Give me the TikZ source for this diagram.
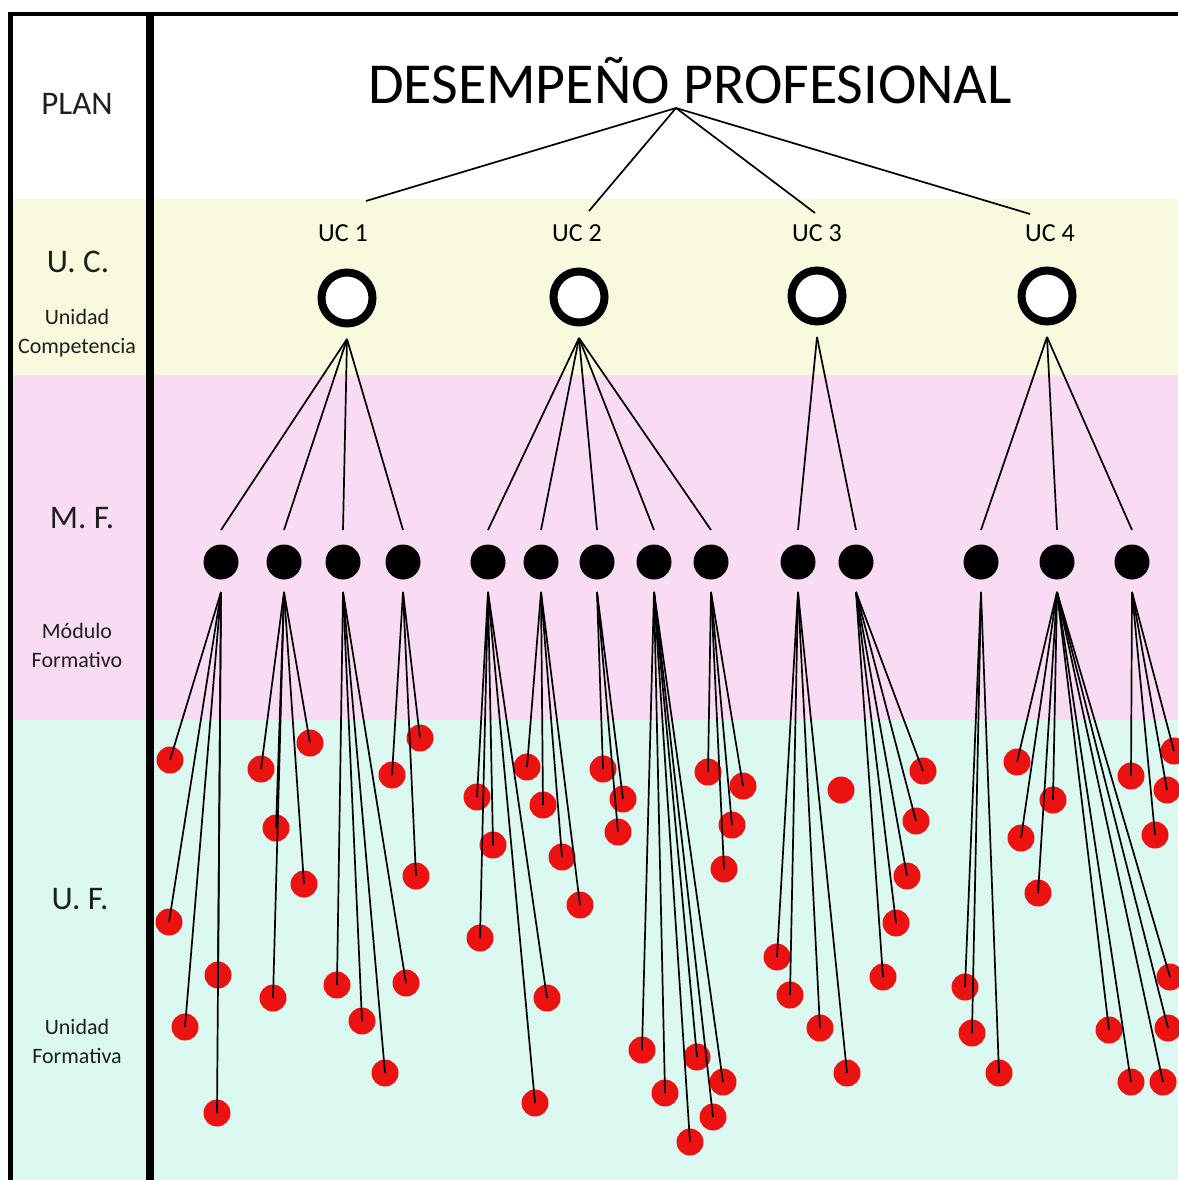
\documentclass[tikz,border=0pt]{standalone}
\usepackage{fontspec}
\setmainfont{Carlito}
\usetikzlibrary{positioning}
\definecolor{bandYellow}{RGB}{249,249,221}
\definecolor{bandPink}{RGB}{249,220,244}
\definecolor{bandCyan}{RGB}{219,249,241}
\definecolor{dotRed}{RGB}{236,18,18}
\definecolor{rowText}{RGB}{30,30,30}
\tikzset{
    ucring/.style={
        circle,
        draw=black,
        line width=8pt,
        fill=white,
        minimum size=51pt,
        inner sep=0pt
    },
    mfdot/.style={
        circle,
        fill=black,
        minimum size=35pt,
        inner sep=0pt
    },
    ufdot/.style={
        circle,
        fill=dotRed,
        minimum size=27pt,
        inner sep=0pt
    },
    link/.style={line width=1.7pt, draw=black},
    rowtitle/.style={font=\fontsize{33}{38}\selectfont, anchor=base, text=rowText},
    rownote/.style={font=\fontsize{22}{29}\selectfont, align=center, text=rowText},
    uclabel/.style={font=\fontsize{26}{30}\selectfont, anchor=base},
    maintitle/.style={font=\fontsize{58}{64}\selectfont, anchor=base}
}
\def\ufdots{1/170/760, 1/169/922, 1/185/1027, 1/218/975, 1/217/1113,
    2/261/769, 2/310/743, 2/276/828, 2/304/884, 2/273/998,
    3/337/985, 3/362/1021, 3/385/1073, 3/406/983,
    4/392/775, 4/420/738, 4/416/876,
    5/477/797, 5/493/845, 5/480/938, 5/535/1103, 5/547/998,
    6/527/767, 6/543/805, 6/562/857, 6/580/905,
    7/603/769, 7/623/799, 7/618/832,
    8/642/1050, 8/665/1093, 8/697/1057, 8/723/1082, 8/713/1117, 8/690/1142,
    9/708/772, 9/743/786, 9/732/825, 9/724/869,
    10/777/957, 10/790/995, 10/820/1028, 10/847/1073,
    11/923/771, 11/916/821, 11/907/876, 11/896/923, 11/883/977,
    12/965/987, 12/972/1033, 12/999/1073,
    13/1017/762, 13/1053/800, 13/1021/838, 13/1038/893, 13/1109/1030,
    13/1131/1082, 13/1163/1082, 13/1168/1028, 13/1170/977,
    14/1131/776, 14/1167/790, 14/1155/835, 14/1174/751}

\begin{document}
\begin{tikzpicture}[x=1pt, y=-1pt]
    \useasboundingbox (0,0) rectangle (1178,1180);
    % bandas
    \fill[white] (0,0) rectangle (1178,199);
    \fill[bandYellow] (10,199) rectangle (1178,375);
    \fill[bandPink] (10,375) rectangle (1178,720);
    \fill[bandCyan] (10,720) rectangle (1178,1180);
    \draw[line width=4pt] (8,14) -- (1178,14);
    \draw[line width=5pt] (10,12) -- (10,1180);
    \draw[line width=8pt] (150,12) -- (150,1180);

    % columna izquierda
    \node[rowtitle] (row-plan) at (77,115) {PLAN};
    \node[rowtitle] (row-uc) at (78,272) {U. C.};
    \node[rownote] (row-ucnote) at (77,333) {Unidad\\Competencia};
    \node[rowtitle] (row-mf) at (82,528) {M. F.};
    \node[rownote] (row-mfnote) at (77,645) {Módulo\\Formativo};
    \node[rowtitle] (row-uf) at (80,909) {U. F.};
    \node[rownote] (row-ufnote) at (77,1041) {Unidad\\Formativa};

    \node[maintitle] (desempeno) at (690,104) {DESEMPEÑO PROFESIONAL};
    \coordinate (desempeno-f) at (676,108);

    \foreach \x/\y/\lx/\tx/\ty [count=\i] in {347/298/343/366/201, 579/297/577/589/211, 817/296/817/815/213, 1047/296/1050/1030/214} {
        \node[ucring] (uc\i) at (\x,\y) {};
        \node[uclabel] (uc\i-lab) at (\lx,241) {UC \i};
        \coordinate (uc\i-t) at (\tx,\ty);
        \coordinate (uc\i-f) at ([yshift=-41pt]uc\i.center);
        \draw[link] (desempeno-f) -- (uc\i-t);
    }

    \foreach \x [count=\i] in {221,284,343,403,488,541,597,654,711,798,856,981,1057,1132} {
        \node[mfdot] (mf\i) at (\x,562) {};
        \coordinate (mf\i-t) at ([yshift=32pt]mf\i.center);
        \coordinate (mf\i-f) at ([yshift=-30pt]mf\i.center);
    }
    \foreach \u/\m in {1/1,1/2,1/3,1/4,2/5,2/6,2/7,2/8,2/9,3/10,3/11,4/12,4/13,4/14}
        \draw[link] (uc\u-f) -- (mf\m-t);

    \foreach \m/\x/\y [count=\i] in \ufdots
        \node[ufdot] (uf\i) at (\x,\y) {};
    \node[ufdot] (uf-free) at (841,790) {};
    \foreach \m/\x/\y [count=\i] in \ufdots
        \draw[link] (mf\m-f) -- (uf\i.center);
\end{tikzpicture}
\end{document}
